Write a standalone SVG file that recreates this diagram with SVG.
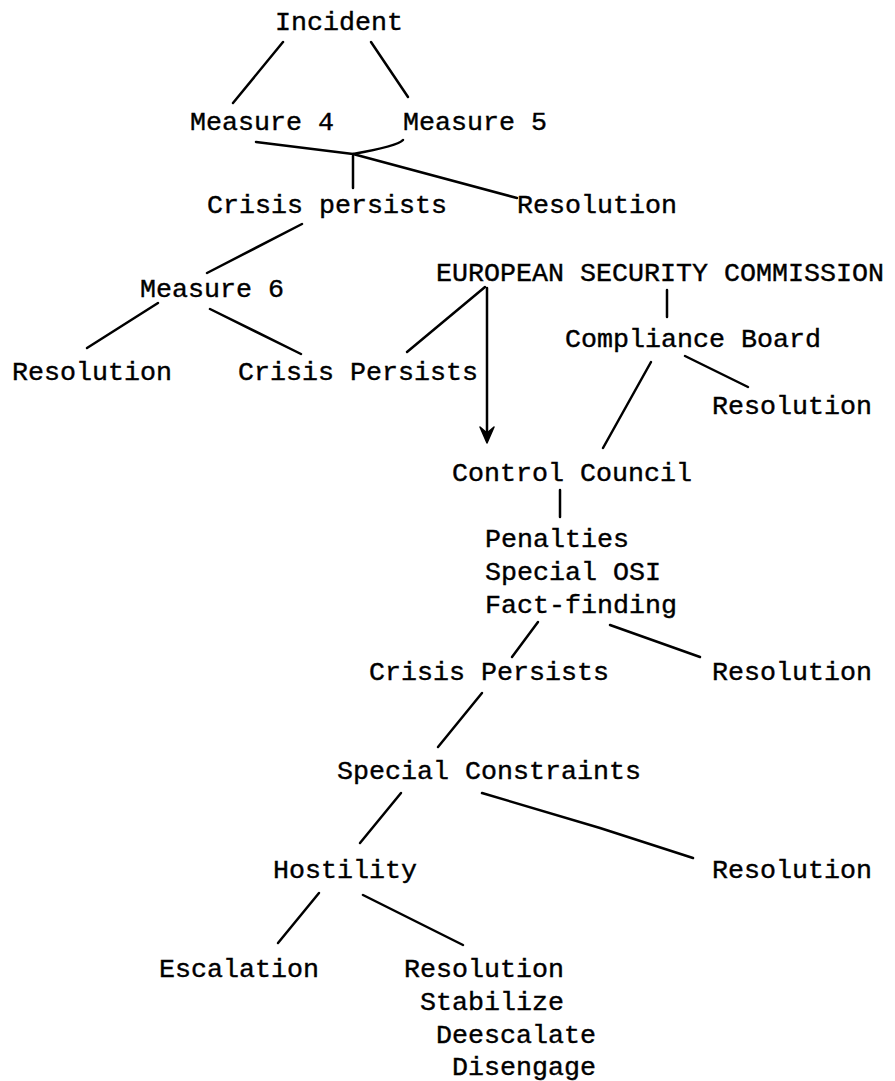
<svg xmlns="http://www.w3.org/2000/svg" width="895" height="1081" viewBox="0 0 895 1081">
<style>
text{font-family:"Liberation Mono","Courier New",monospace;font-size:26.67px;fill:#000;stroke:#000;stroke-width:0.4}
.c{fill:none;stroke:#000;stroke-width:2.5;stroke-linecap:round;stroke-linejoin:round}
.ah{fill:#000;stroke:#000;stroke-width:1.5;stroke-linejoin:round}
</style>
<rect width="895" height="1081" fill="#fff"/>
<g id="connectors">
<path class="c" d="M283,42 L233,103"/>
<path class="c" d="M371,42 L408,97"/>
<path class="c" d="M256,142 L353,154 L517,198"/>
<path class="c" d="M403,140 Q398,146 353,154"/>
<path class="c" d="M353,156 L353,188"/>
<path class="c" d="M302,224 L207,273"/>
<path class="c" d="M158,303 L87,348"/>
<path class="c" d="M210,309 L301,354"/>
<path class="c" d="M485,287 L407,352"/>
<path class="c" d="M487,288 L487,436"/>
<path class="ah" d="M480,427 L487,443 L494,427 L487,433 Z"/>
<path class="c" d="M667,290 L667,317"/>
<path class="c" d="M651,362 L603,448"/>
<path class="c" d="M685,356 L748,387"/>
<path class="c" d="M560,490 L560,517"/>
<path class="c" d="M538,622 L512,657"/>
<path class="c" d="M610,625 L700,657"/>
<path class="c" d="M482,693 L438,747"/>
<path class="c" d="M401,793 L360,843"/>
<path class="c" d="M482,793 L600,828 L693,858"/>
<path class="c" d="M319,893 L278,943"/>
<path class="c" d="M363,895 L463,945"/>
</g>
<g id="n-incident"><text x="275" y="30">Incident</text></g>
<g id="n-measure4"><text x="190" y="130">Measure 4</text></g>
<g id="n-measure5"><text x="403" y="130">Measure 5</text></g>
<g id="n-crisis1"><text x="207" y="213">Crisis persists</text></g>
<g id="n-resolution1"><text x="517" y="213">Resolution</text></g>
<g id="n-esc"><text x="436" y="281">EUROPEAN SECURITY COMMISSION</text></g>
<g id="n-measure6"><text x="140" y="297">Measure 6</text></g>
<g id="n-compliance"><text x="565" y="347">Compliance Board</text></g>
<g id="n-resolution2"><text x="12" y="380">Resolution</text></g>
<g id="n-crisis2"><text x="238" y="380">Crisis Persists</text></g>
<g id="n-resolution3"><text x="712" y="414">Resolution</text></g>
<g id="n-control"><text x="452" y="481">Control Council</text></g>
<g id="n-penalties"><text x="485" y="547">Penalties</text><text x="485" y="580">Special OSI</text><text x="485" y="613">Fact-finding</text></g>
<g id="n-crisis3"><text x="369" y="680">Crisis Persists</text></g>
<g id="n-resolution4"><text x="712" y="680">Resolution</text></g>
<g id="n-special"><text x="337" y="779">Special Constraints</text></g>
<g id="n-hostility"><text x="273" y="878">Hostility</text></g>
<g id="n-resolution5"><text x="712" y="878">Resolution</text></g>
<g id="n-escalation"><text x="159" y="977">Escalation</text></g>
<g id="n-resolution6"><text x="404" y="977">Resolution</text><text x="420" y="1010">Stabilize</text><text x="436" y="1043">Deescalate</text><text x="452" y="1075">Disengage</text></g>
</svg>
